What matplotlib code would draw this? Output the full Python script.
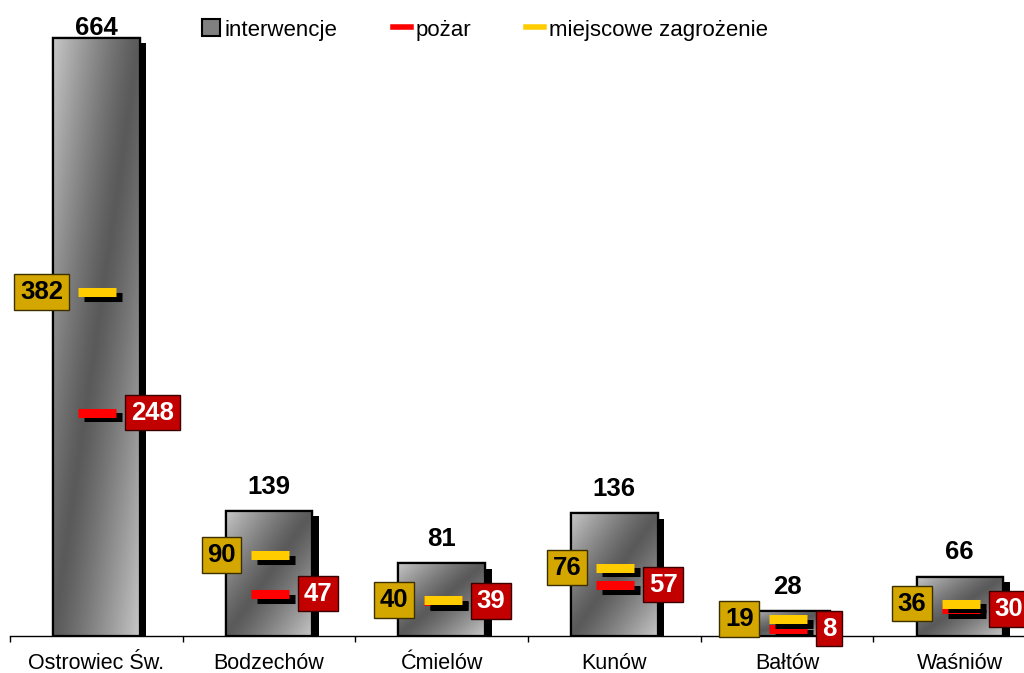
""" Interwencje, pożary i miejscowe zagrożenia wg gmin """

import matplotlib
matplotlib.use('Agg')
import matplotlib.pyplot as plt
import matplotlib.patheffects as pe
from matplotlib.colors import LinearSegmentedColormap
from matplotlib.patches import Patch
from matplotlib.lines import Line2D
import numpy as np

plt.rcParams['font.family'] = ['Liberation Sans', 'DejaVu Sans']

gminy = ['Ostrowiec Św.', 'Bodzechów', 'Ćmielów', 'Kunów', 'Bałtów', 'Waśniów']
interwencje = [664, 139, 81, 136, 28, 66]
pozar = [248, 47, 39, 57, 8, 30]
zagrozenie = [382, 90, 40, 76, 19, 36]

W, H = 1024, 673
fig = plt.figure(figsize=(W / 100, H / 100), dpi=100)
# axes run past the right edge on purpose (last label box is cut in the original)
ax = fig.add_axes([10 / W, 37 / H, 1036 / W, 636 / H])
YMAX = 706

grey = LinearSegmentedColormap.from_list('g', ['#5a5a5a', '#c6c6c6'])
u, v = np.meshgrid(np.linspace(0, 1, 80), np.linspace(0, 1, 80))
grad = np.abs(u + v - 1) ** 1.2  # light corners, dark diagonal band

x = np.arange(len(gminy))
bars = ax.bar(x, interwencje, width=0.5, color='#8a8a8a', edgecolor='black',
              linewidth=1.6, zorder=2,
              path_effects=[pe.SimplePatchShadow(offset=(5, -4), shadow_rgbFace='black', alpha=1),
                            pe.Normal()])
for b in bars:
    x0, w, h = b.get_x(), b.get_width(), b.get_height()
    im = ax.imshow(grad, extent=[x0, x0 + w, 0, h], origin='upper', aspect='auto',
                   cmap=grey, zorder=2.1, interpolation='bilinear')
    im.set_clip_path(b)
    ax.add_patch(plt.Rectangle((x0, 0), w, h, fill=False, edgecolor='black',
                               linewidth=1.6, zorder=2.2))

ax.set_xlim(-0.5, len(gminy) - 0.5)
ax.set_ylim(0, YMAX)

# totals above bars (the tallest one is squeezed under the top edge)
for i, val in enumerate(interwencje):
    ax.text(i, min(val + 19, 667), str(val), ha='center', va='baseline',
            fontsize=18.5, fontweight='bold', zorder=5)

dash_fx = [pe.SimpleLineShadow(offset=(4.5, -3.5), shadow_color='black', alpha=1), pe.Normal()]
ax.hlines(pozar, x - 0.105, x + 0.115, colors='#ff0000', linewidth=6.5, zorder=3,
          path_effects=dash_fx, capstyle='butt')
ax.hlines(zagrozenie, x - 0.105, x + 0.115, colors='#ffcc00', linewidth=6.5, zorder=3.1,
          path_effects=dash_fx, capstyle='butt')

for i in range(len(gminy)):
    ax.annotate(str(zagrozenie[i]), (i, zagrozenie[i]), xytext=(-24, 0),
                textcoords='offset points', ha='right', va='center',
                fontsize=18.5, fontweight='bold', color='black', zorder=6,
                bbox=dict(boxstyle='square,pad=0.22', fc='#d4a700', ec='#3b2f00', lw=1))
    ax.annotate(str(pozar[i]), (i, pozar[i]), xytext=(25, 0),
                textcoords='offset points', ha='left', va='center',
                fontsize=18.5, fontweight='bold', color='white', zorder=6,
                bbox=dict(boxstyle='square,pad=0.22', fc='#c20000', ec='#3a0000', lw=1))

for s in ['top', 'right', 'left']:
    ax.spines[s].set_visible(False)
ax.spines['bottom'].set_linewidth(1)
ax.set_yticks([])
ax.set_xticks(x)
ax.set_xticklabels(gminy, fontsize=15.5)
ax.set_xticks(np.arange(-0.5, len(gminy), 1), minor=True)
ax.tick_params(axis='x', which='major', length=0, pad=12)
ax.tick_params(axis='x', which='minor', length=4.5, width=1, direction='out')
ax.patch.set_alpha(0)

handles = [Patch(facecolor='#808080', edgecolor='black', linewidth=1.5),
           Line2D([], [], color='#ff0000', linewidth=4),
           Line2D([], [], color='#ffcc00', linewidth=4)]
fig.legend(handles, ['interwencje', 'pożar', 'miejscowe zagrożenie'], ncol=3,
           loc='center', bbox_to_anchor=(485 / W, 1 - 30 / H), frameon=False,
           fontsize=16, handlelength=0.8, handleheight=0.8, handletextpad=0.2,
           columnspacing=2.5)

fig.savefig('out.png', dpi=100)
